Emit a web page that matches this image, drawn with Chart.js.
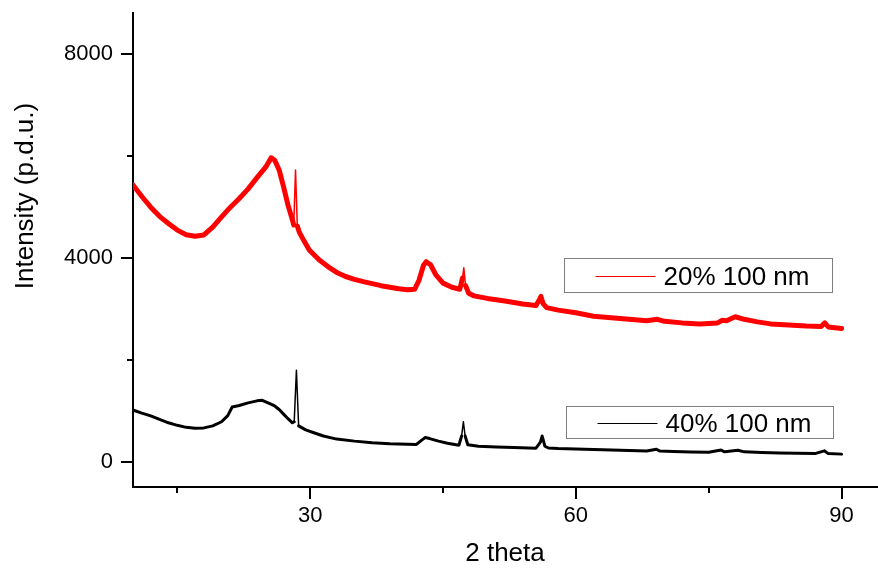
<html>
    <head>
        <script src="https://cdn.jsdelivr.net/npm/chart.js@4/dist/chart.umd.min.js"></script>
    </head>

    <body style="margin: 0; background-color: #FFFFFF;">
        <canvas id="plot" width="878" height="569"></canvas>

        <script>
            // data
            const redLabel = '20% 100 nm';
            const redTheta = [10, 11, 12, 13, 14, 15, 16, 17, 18, 19, 20, 21, 22, 23, 24, 25, 25.6, 26, 26.5, 27, 27.5, 28, 28.15, 28.35, 28.55, 28.8, 29.3, 29.9,
                31, 32, 33, 34, 35, 36, 37, 38, 39, 40, 41, 41.8, 42.3, 42.8, 43.1, 43.6, 44.2, 45, 46, 46.9, 47.2, 47.35, 47.55, 47.9, 48.5,
                50, 52, 54, 55.5, 55.9, 56.05, 56.3, 56.7, 58, 60, 62, 64, 66, 68, 69.2, 70, 72, 74, 76, 76.5, 77, 78, 79, 80.5, 82, 84, 86, 87.7, 88.1, 88.5, 90];
            const redIntensity = [5425, 5200, 4990, 4810, 4670, 4540, 4450, 4420, 4445, 4600, 4800, 4990, 5160, 5350, 5570, 5780, 5960, 5910, 5720, 5390, 5030, 4740, 4640, 5720, 4620, 4490, 4330, 4150,
                3960, 3825, 3710, 3630, 3575, 3530, 3490, 3450, 3420, 3390, 3370, 3380, 3560, 3850, 3920, 3860, 3660, 3500, 3420, 3380, 3600, 3800, 3450, 3300, 3250,
                3200, 3150, 3090, 3060, 3180, 3240, 3100, 3020, 2970, 2920, 2850, 2820, 2790, 2760, 2790, 2750, 2720, 2700, 2720, 2770, 2760, 2840, 2790, 2740, 2700, 2680, 2660, 2650, 2720, 2640, 2610];

            const blackLabel = '40% 100 nm';
            const blackTheta = [10, 11, 12, 13, 14, 15, 16, 17, 18, 19, 20, 20.7, 21.2, 22, 23, 24, 24.6, 25.5, 26, 26.5, 27, 27.5, 28, 28.2, 28.45, 28.7, 29.5, 30.5, 31.5,
                33, 35, 37, 39, 41, 42, 42.6, 43, 43.5, 44.5, 45.5, 46.8, 47.1, 47.3, 47.5, 47.8, 49, 51, 53, 55.5, 56, 56.2, 56.5, 56.9,
                58, 60, 62, 64, 66, 68, 69.1, 69.5, 71, 73, 75, 76.4, 76.8, 78.3, 79, 81, 83, 85, 87, 88.05, 88.5, 90];
            const blackIntensity = [1010, 950, 895, 825, 760, 710, 670, 655, 660, 700, 780, 900, 1070, 1100, 1150, 1190, 1200, 1130, 1090, 1020, 930, 840, 760, 780, 1790, 700, 620, 560, 500,
                440, 400, 370, 350, 340, 335, 420, 470, 450, 400, 360, 320, 500, 780, 500, 330, 300, 285, 275, 262, 380, 500, 300, 265,
                255, 245, 235, 225, 215, 205, 240, 205, 195, 185, 180, 225, 190, 220, 190, 175, 165, 160, 155, 210, 155, 145];

            const xTicks = [15, 30, 45, 60, 75, 90];
            const yTicks = [0, 2000, 4000, 6000, 8000];
            const xTitle = '2 theta';
            const yTitle = 'Intensity (p.d.u.)';

            Chart.defaults.font.family = '"Liberation Sans", Arial, sans-serif';
            Chart.defaults.color = '#000000';

            const toPoints = (xs, ys) => xs.map((x, i) => ({ x: x, y: ys[i] }));

            // noisy band is thick, the narrow peaks are drawn thin
            const bandWidth = (wide) => (ctx) => {
                const dx = Math.abs(ctx.p1.x - ctx.p0.x);
                const dy = Math.abs(ctx.p1.y - ctx.p0.y);
                return dy > 6 * dx && dy > 8 ? 1.5 : wide;
            };

            // tick marks, y title and the two boxed legends
            const decorations = {
                id: 'decorations',
                afterDraw(chart) {
                    const ctx = chart.ctx;
                    const xs = chart.scales.x;
                    const ys = chart.scales.y;
                    const area = chart.chartArea;

                    ctx.save();
                    ctx.strokeStyle = '#000000';
                    ctx.lineWidth = 2;
                    for (const v of xTicks) {
                        const px = Math.round(xs.getPixelForValue(v));
                        const len = v % 30 === 0 ? 12 : 6;
                        ctx.beginPath();
                        ctx.moveTo(px, area.bottom);
                        ctx.lineTo(px, area.bottom + len);
                        ctx.stroke();
                    }
                    for (const v of yTicks) {
                        const py = Math.round(ys.getPixelForValue(v));
                        const len = v % 4000 === 0 ? 12 : 6;
                        ctx.beginPath();
                        ctx.moveTo(area.left, py);
                        ctx.lineTo(area.left - len, py);
                        ctx.stroke();
                    }

                    ctx.font = '26px "Liberation Sans", Arial, sans-serif';
                    ctx.fillStyle = '#000000';
                    ctx.translate(26, 196);
                    ctx.rotate(-Math.PI / 2);
                    ctx.textAlign = 'center';
                    ctx.textBaseline = 'middle';
                    ctx.fillText(yTitle, 0, 0);
                    ctx.restore();

                    const boxes = [
                        { ds: 0, left: 564.5, top: 258.5, w: 268, h: 34 },
                        { ds: 1, left: 566.5, top: 406.5, w: 267, h: 32 }
                    ];
                    ctx.save();
                    for (const b of boxes) {
                        const ds = chart.data.datasets[b.ds];
                        const mid = Math.round(b.top + b.h / 2) + 0.5;
                        ctx.fillStyle = '#FFFFFF';
                        ctx.fillRect(b.left, b.top, b.w, b.h);
                        ctx.strokeStyle = '#808080';
                        ctx.lineWidth = 1;
                        ctx.strokeRect(b.left, b.top, b.w, b.h);
                        ctx.strokeStyle = ds.borderColor;
                        ctx.beginPath();
                        ctx.moveTo(b.left + 31, mid);
                        ctx.lineTo(b.left + 91, mid);
                        ctx.stroke();
                        ctx.fillStyle = '#000000';
                        ctx.font = '26px "Liberation Sans", Arial, sans-serif';
                        ctx.textAlign = 'left';
                        ctx.textBaseline = 'middle';
                        ctx.fillText(ds.label, b.left + 99, mid + 1);
                    }
                    ctx.restore();
                }
            };

            const chart = new Chart(document.getElementById('plot'), {
                type: 'line',
                data: {
                    datasets: [{
                        label: redLabel,
                        data: toPoints(redTheta, redIntensity),
                        borderColor: '#FF0000',
                        borderWidth: 5,
                        borderJoinStyle: 'round',
                        borderCapStyle: 'round',
                        segment: { borderWidth: bandWidth(5) },
                        pointRadius: 0,
                        tension: 0
                    }, {
                        label: blackLabel,
                        data: toPoints(blackTheta, blackIntensity),
                        borderColor: '#000000',
                        borderWidth: 3,
                        borderJoinStyle: 'round',
                        borderCapStyle: 'round',
                        segment: { borderWidth: bandWidth(3) },
                        pointRadius: 0,
                        tension: 0
                    }]
                },
                options: {
                    responsive: false,
                    animation: false,
                    layout: { padding: { top: 13, right: 1, left: 0, bottom: 0 } },
                    plugins: {
                        legend: { display: false },
                        tooltip: { enabled: false }
                    },
                    scales: {
                        x: {
                            type: 'linear',
                            min: 10,
                            max: 94,
                            afterBuildTicks: (s) => { s.ticks = xTicks.map(v => ({ value: v })); },
                            afterFit: (s) => { s.height = 82; s.paddingLeft = 0; s.paddingRight = 0; },
                            grid: { display: false, drawTicks: false },
                            border: { display: true, color: '#000000', width: 2 },
                            ticks: {
                                autoSkip: false,
                                maxRotation: 0,
                                padding: 16,
                                font: { size: 22 },
                                callback: (v) => v % 30 === 0 ? String(v) : ''
                            },
                            title: {
                                display: true,
                                text: xTitle,
                                font: { size: 26 },
                                padding: { top: 0, bottom: 0 }
                            }
                        },
                        y: {
                            min: -500,
                            max: 8800,
                            afterBuildTicks: (s) => { s.ticks = yTicks.map(v => ({ value: v })); },
                            afterFit: (s) => { s.width = 133; s.paddingTop = 0; s.paddingBottom = 0; },
                            grid: { display: false, drawTicks: false },
                            border: { display: true, color: '#000000', width: 2 },
                            ticks: {
                                autoSkip: false,
                                padding: 20,
                                font: { size: 22 },
                                callback: (v) => v % 4000 === 0 ? String(v) : ''
                            }
                        }
                    }
                },
                plugins: [decorations]
            });
        </script>
    </body>
</html>
